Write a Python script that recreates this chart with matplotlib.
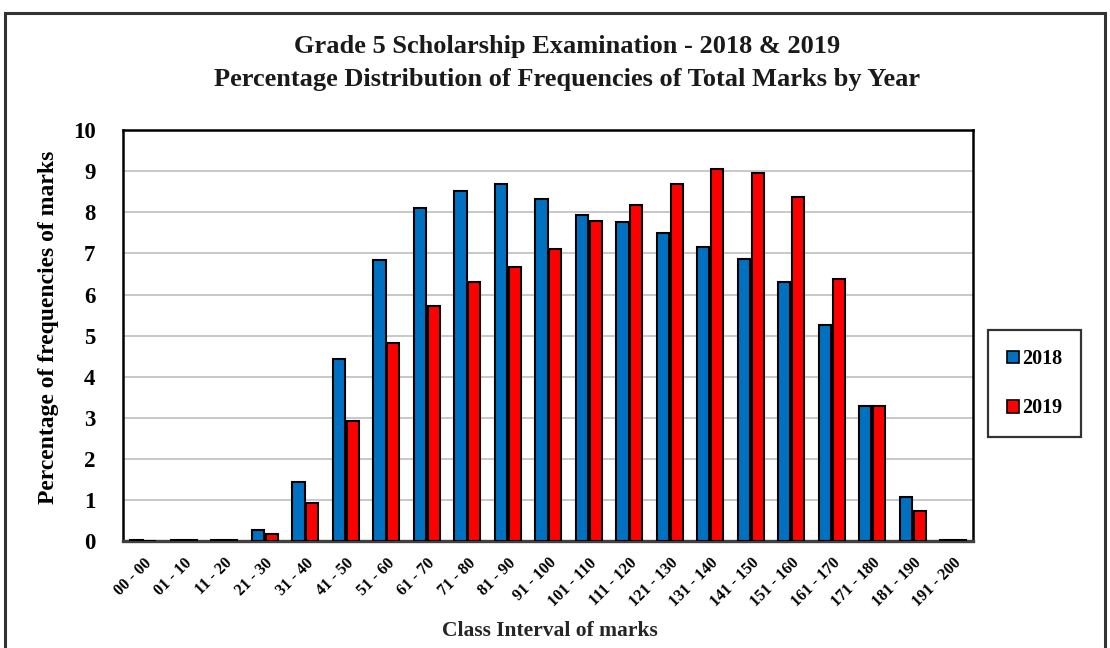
import numpy as np
import matplotlib
matplotlib.use('Agg')
import matplotlib.pyplot as plt
from matplotlib.patches import Rectangle

# Data
classes = ['00 - 00', '01 - 10', '11 - 20', '21 - 30', '31 - 40', '41 - 50', '51 - 60',
           '61 - 70', '71 - 80', '81 - 90', '91 - 100', '101 - 110', '111 - 120',
           '121 - 130', '131 - 140', '141 - 150', '151 - 160', '161 - 170',
           '171 - 180', '181 - 190', '191 - 200']
pct_2018 = [0.03, 0.03, 0.03, 0.27, 1.45, 4.42, 6.85, 8.10, 8.53, 8.70, 8.32, 7.93,
            7.76, 7.50, 7.15, 6.86, 6.30, 5.26, 3.30, 1.08, 0.03]
pct_2019 = [0.00, 0.03, 0.03, 0.17, 0.92, 2.92, 4.82, 5.73, 6.30, 6.68, 7.12, 7.80,
            8.18, 8.70, 9.05, 8.97, 8.37, 6.37, 3.30, 0.73, 0.03]
years = ['2018', '2019']
colors = ['#0070C0', '#FF0000']

plt.rcParams['font.family'] = ['Liberation Serif', 'DejaVu Serif']
plt.rcParams['font.weight'] = 'bold'

fig = plt.figure(figsize=(11.1, 6.48), dpi=100)
ax = fig.add_axes([0.111, 0.165, 0.766, 0.634])

x = np.arange(len(classes))
w = 0.3
ax.bar(x - w / 2 - 0.02, pct_2018, w, color=colors[0], edgecolor='black', linewidth=1.5,
       label=years[0], zorder=3)
ax.bar(x + w / 2 + 0.02, pct_2019, w, color=colors[1], edgecolor='black', linewidth=1.5,
       label=years[1], zorder=3)

ax.set_xlim(-0.5, len(classes) - 0.5)
ax.set_ylim(0, 10)
ax.set_yticks(range(0, 11))
ax.set_yticklabels([str(i) for i in range(0, 11)], fontsize=16.5, fontweight='bold')
ax.set_xticks(x)
ax.set_xticklabels(classes, rotation=45, ha='right', rotation_mode='anchor',
                   fontsize=11.5, fontweight='bold')
ax.tick_params(axis='both', length=0)
ax.tick_params(axis='x', pad=10)
ax.tick_params(axis='y', pad=20)
ax.yaxis.grid(True, color='#BFBFBF', linewidth=1.2, zorder=0)
ax.set_axisbelow(True)
for s in ax.spines.values():
    s.set_linewidth(1.8)
    s.set_color('black')
ax.spines['bottom'].set_color('#404040')
ax.spines['bottom'].set_linewidth(2.4)

ax.set_ylabel('Percentage of frequencies of marks', fontsize=17, fontweight='bold')
ax.yaxis.set_label_coords(-0.076, 0.52)
fig.text(0.495, 0.027, 'Class Interval of marks', ha='center', va='center',
         fontsize=15.5, fontweight='bold', color='#262626')

fig.text(0.511, 0.929, 'Grade 5 Scholarship Examination - 2018 & 2019', ha='center',
         va='center', fontsize=19, fontweight='bold', color='#1a1a1a')
fig.text(0.511, 0.878, 'Percentage Distribution of Frequencies of Total Marks by Year',
         ha='center', va='center', fontsize=19, fontweight='bold', color='#1a1a1a')

leg = fig.legend(loc='center', bbox_to_anchor=(0.932, 0.408), frameon=True, fancybox=False,
                 edgecolor='black', fontsize=14.5, handlelength=0.6, handleheight=0.6,
                 handletextpad=0.12, labelspacing=1.45, borderpad=0.95, borderaxespad=0)
leg.get_frame().set_linewidth(1.6)
for h in leg.legend_handles:
    h.set_linewidth(1.2)

# outer frame
fig.patches.append(Rectangle((0.0045, -0.1), 0.991, 1.08, transform=fig.transFigure,
                             fill=False, edgecolor='#333333', linewidth=2.2))

fig.savefig('out.png', dpi=100)
